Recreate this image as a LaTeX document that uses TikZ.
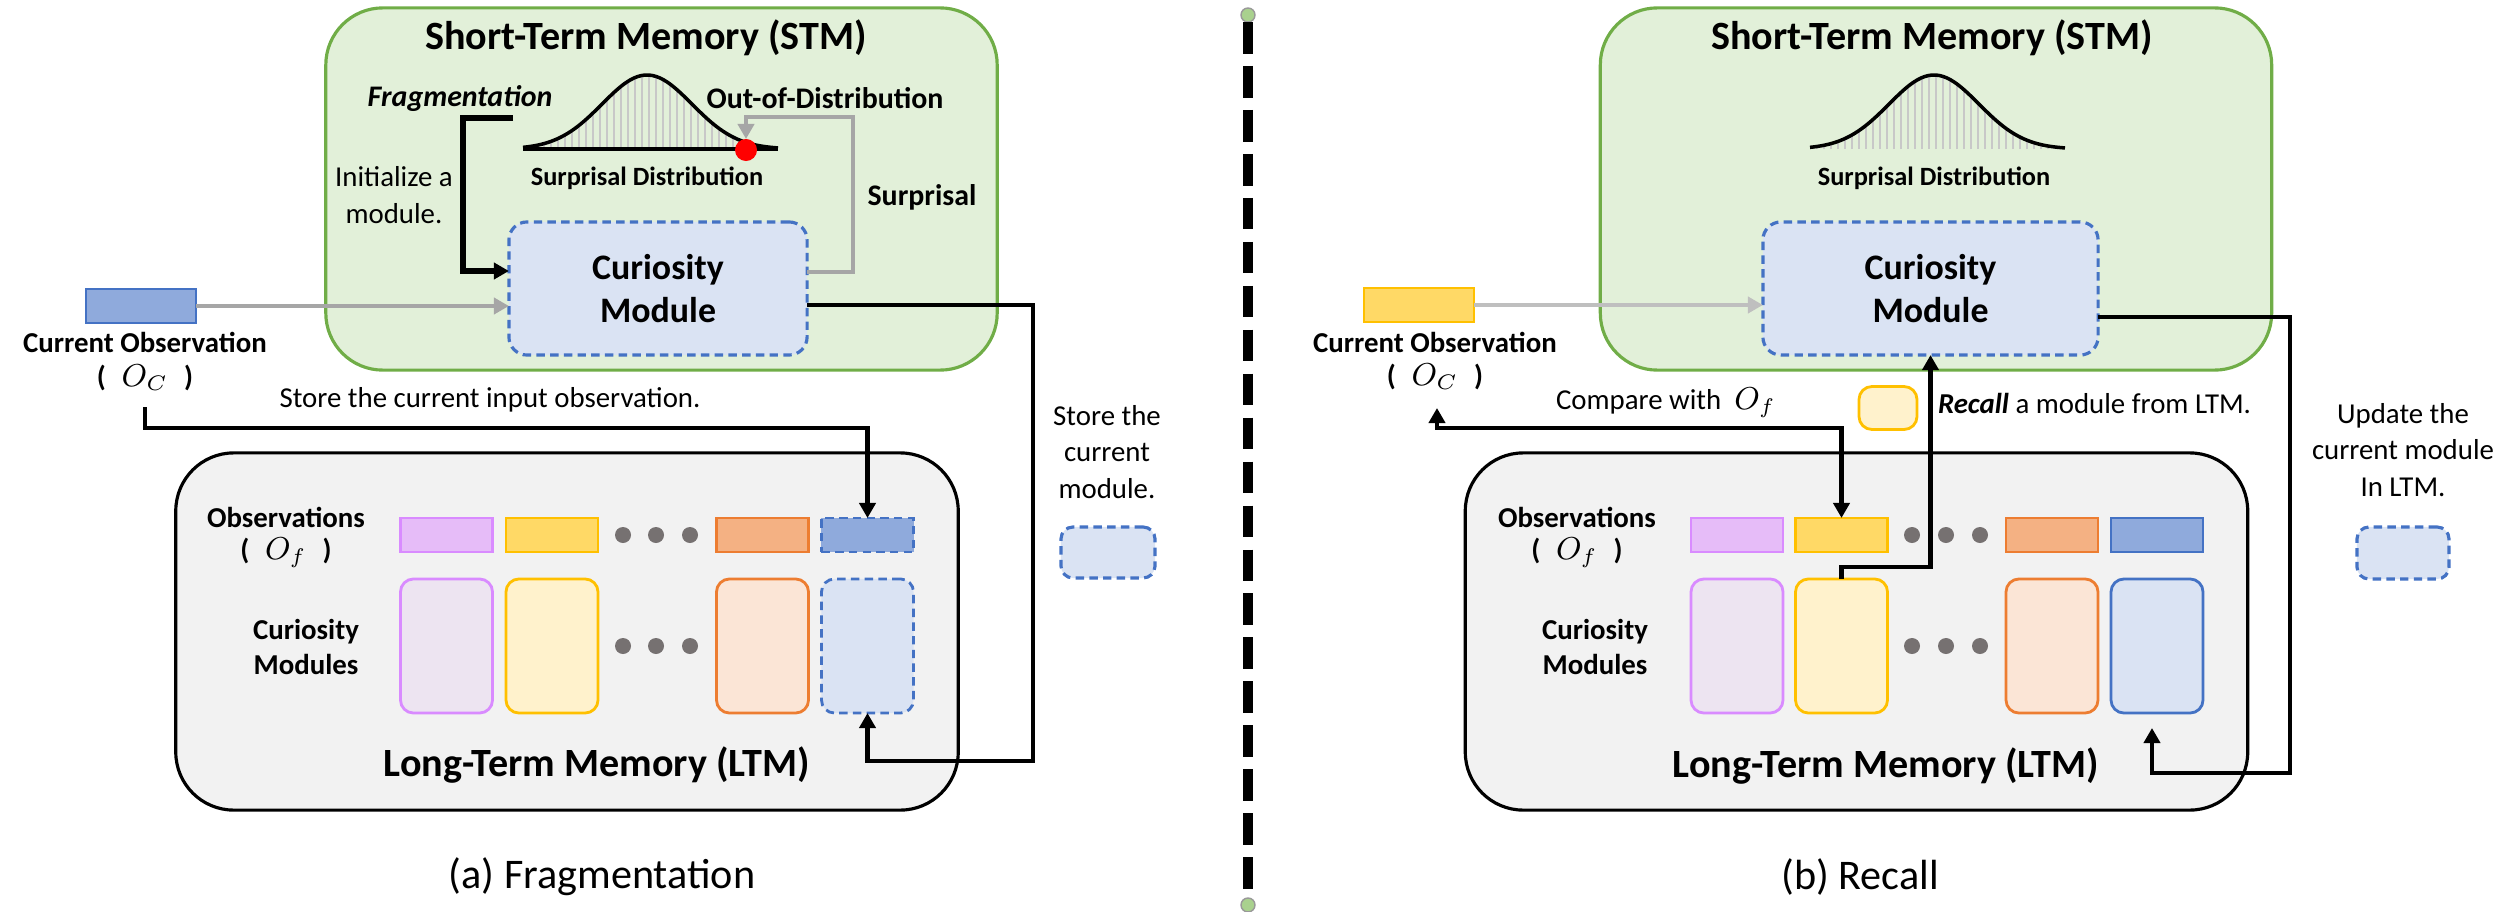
\documentclass[tikz,border=0pt]{standalone}
\usepackage{fontspec}
\setmainfont{Carlito}
\usetikzlibrary{arrows.meta,positioning,calc}

\definecolor{stmfill}{HTML}{E2F0D9}
\definecolor{stmline}{HTML}{70AD47}
\definecolor{cmfill}{HTML}{DAE3F3}
\definecolor{cmline}{HTML}{4472C4}
\definecolor{obsblue}{HTML}{8FAADC}
\definecolor{ltmfill}{HTML}{F2F2F2}
\definecolor{purline}{HTML}{D98BFF}
\definecolor{purobs}{HTML}{E6BCF8}
\definecolor{purmod}{HTML}{EDE4F1}
\definecolor{yelline}{HTML}{FFC000}
\definecolor{yelobs}{HTML}{FFD966}
\definecolor{yelmod}{HTML}{FFF2CC}
\definecolor{oraline}{HTML}{ED7D31}
\definecolor{oraobs}{HTML}{F4B183}
\definecolor{oramod}{HTML}{FBE5D6}
\definecolor{dotgray}{HTML}{767171}
\definecolor{arrgray}{HTML}{A6A6A6}
\definecolor{inpgray}{HTML}{BFBFBF}
\definecolor{hatchgray}{HTML}{C8C8C8}
\definecolor{pinfill}{HTML}{A9D18E}

\newcommand\memfnt{\fontsize{11.4}{13.7}\selectfont\bfseries}
\newcommand\modfnt{\fontsize{10.2}{12}\selectfont\bfseries}
\newcommand\keyfnt{\fontsize{8.5}{10}\selectfont\bfseries}
\newcommand\lblfnt{\fontsize{8.2}{10}\selectfont\bfseries}
\newcommand\notefnt{\fontsize{8.2}{10.3}\selectfont}
\newcommand\distfnt{\fontsize{7.5}{9}\selectfont\bfseries}
\newcommand\capfnt{\fontsize{12}{14}\selectfont}
\newcommand\mathsz{\fontsize{9}{10}\selectfont}
\newcommand\symlbl[1]{(\hspace{0.55em}{\mathsz$#1$}\hspace{0.55em})}

\begin{document}
\begin{tikzpicture}[x=0.01cm, y=-0.01cm,
  every node/.style={inner sep=0pt, outer sep=0pt},
  stmbox/.style={draw=stmline, fill=stmfill, line width=0.9pt,
    rounded corners=0.57cm, minimum width=6.71cm, minimum height=3.62cm},
  ltmbox/.style={draw=black, fill=ltmfill, line width=0.9pt,
    rounded corners=0.58cm, minimum width=7.82cm, minimum height=3.57cm},
  cmbox/.style={draw=cmline, fill=cmfill, line width=0.9pt,
    dash pattern=on 2.4pt off 1.5pt, rounded corners=0.18cm,
    minimum height=1.33cm, align=center, font=\modfnt},
  obsrect/.style={line width=0.8pt, minimum width=0.92cm, minimum height=0.34cm},
  modrect/.style={line width=0.8pt, rounded corners=0.13cm,
    minimum width=0.92cm, minimum height=1.34cm},
  gapdot/.style={circle, fill=dotgray, minimum size=0.16cm},
  memtitle/.style={font=\memfnt},
  lbl/.style={font=\lblfnt, align=center},
  keyword/.style={font=\keyfnt},
  note/.style={font=\notefnt, align=center},
  blkarrow/.style={line width=1.3pt, -{Triangle[width=4.6pt,length=4.3pt]}},
  grayarrow/.style={line width=1.2pt, -{Triangle[width=4.6pt,length=4.3pt]}},
  bell/.style={line width=1pt},
  divend/.style={circle, fill=pinfill, draw=gray!80, line width=0.4pt,
    minimum size=0.14cm}]
\useasboundingbox (0,0) rectangle (2508,912);

% memory boxes
\node[stmbox] (aSTM) at (661.5,189) {};
\node[ltmbox] (aLTM) at (567,631.5) {};
\node[stmbox] (bSTM) at (1936,189) {};
\node[ltmbox] (bLTM) at (1856.5,631.5) {};
\node[memtitle] (aTitle) at (646,38) {Short-Term Memory (STM)};
\node[memtitle] (aLTMtitle) at (597,765) {Long-Term Memory (LTM)};
\node[memtitle] (bTitle) at (1932,38) {Short-Term Memory (STM)};
\node[memtitle] (bLTMtitle) at (1886,766) {Long-Term Memory (LTM)};

% surprisal curves
\foreach \sh in {0,1287} {
  \foreach \hx in {530,537,...,775}
    \draw[hatchgray, line width=0.5pt] ({\hx+\sh},149) -- ({\hx+\sh},{149-74*exp(-0.5*pow((\hx-647)/45,2))});
  \draw[bell] plot[domain=523:778, samples=70, smooth] ({\x+\sh},{149-74*exp(-0.5*pow((\x-647)/45,2))});
}
\draw[line width=1.2pt] (523,149) -- (778,149);

% (a) fragmentation
\node[circle, fill=red, minimum size=0.22cm] (aRed) at (746,150) {};
\node[font=\distfnt] (aDist) at (647,178) {Surprisal Distribution};
\node[keyword, font=\keyfnt\itshape] (aFrag) at (460,99) {Fragmentation};
\node[keyword] (aOOD) at (825,98) {Out-of-Distribution};
\node[keyword] (aSurp) at (922,197) {Surprisal};
\node[note] (aInit) at (394,195) {Initialize a\\module.};
\node[cmbox, minimum width=2.98cm] (aCM) at (658,288.5) {Curiosity\\Module};
\node[obsrect, draw=cmline, fill=obsblue, minimum width=1.1cm] (aObs) at (141,306) {};
\node[lbl] (aObsLbl) at (145,342) {Current Observation};
\node[lbl] (aOc) at (145,378) {\symlbl{O_C}};
\node[note] (aStoreTxt) at (490,400) {Store the current input observation.};
\node[lbl] (aObsTxt) at (286,517) {Observations};
\node[lbl] (aOf) at (286,553) {\symlbl{O_f}};
\node[lbl] (aCMs) at (306,647) {Curiosity\\Modules};
\foreach \n/\x/\ln/\ob/\md in {1/446.5/purline/purobs/purmod,
    2/552/yelline/yelobs/yelmod, 3/762.5/oraline/oraobs/oramod} {
  \node[obsrect, draw=\ln, fill=\ob] (aO\n) at (\x,535) {};
  \node[modrect, draw=\ln, fill=\md] (aM\n) at (\x,646) {};
}
\node[obsrect, draw=cmline, fill=obsblue, dash pattern=on 2.4pt off 1.5pt] (aO4) at (867.5,535) {};
\node[modrect, draw=cmline, fill=cmfill, dash pattern=on 2.4pt off 1.5pt] (aM4) at (867.5,646) {};
\foreach \i/\x in {1/623,2/656,3/690} {
  \node[gapdot] (aDo\i) at (\x,535) {};
  \node[gapdot] (aDm\i) at (\x,646) {};
}
\node[note] (aStoreMod) at (1107,452) {Store the\\current\\module.};
\node[cmbox, minimum width=0.94cm, minimum height=0.51cm, rounded corners=0.12cm] (aMini) at (1108,552.5) {};
\node[font=\capfnt] (aCap) at (602,877) {(a) Fragmentation};

\coordinate (aFragStart) at (513,118);
\coordinate (aFragTurn) at (463,118);
\coordinate (aLoopTop) at (853,117);
\coordinate (aStoreStart) at (145,407);
\coordinate (aModTurn) at (1033,761);
\draw[grayarrow, arrgray] (aObs.east) -- (aObs.east -| aCM.west);
\draw[blkarrow, line width=1.5pt] (aFragStart) -- (aFragTurn) |- ([yshift=0.175cm]aCM.west);
\draw[grayarrow, arrgray] ([yshift=0.165cm]aCM.east) -| (aLoopTop) -| (aRed.north);
\draw[blkarrow] (aStoreStart) -- ++(0,21) -| (aO4.north);
\draw[blkarrow] ([yshift=-0.165cm]aCM.east) -| (aModTurn) -| (aM4.south);

% divider
\node[divend] (pinTop) at (1248,15) {};
\node[divend] (pinBot) at (1248,905) {};
\draw[line width=2.85pt, dash pattern=on 9pt off 3.5pt] (pinTop.south) -- (pinBot.north);

% (b) recall
\node[font=\distfnt] (bDist) at (1934,178) {Surprisal Distribution};
\node[cmbox, minimum width=3.35cm] (bCM) at (1930.5,288.5) {Curiosity\\Module};
\node[obsrect, draw=yelline, fill=yelobs, minimum width=1.1cm] (bObs) at (1419,305) {};
\node[lbl] (bObsLbl) at (1435,342) {Current Observation};
\node[lbl] (bOc) at (1435,377) {\symlbl{O_C}};
\node[note] (bCmpTxt) at (1666,403) {Compare with~~{\mathsz$O_f$}};
\node[modrect, draw=yelline, fill=yelmod, minimum width=0.58cm, minimum height=0.43cm] (bRecallBox) at (1888,408) {};
\node[note, anchor=west] (bRecallTxt) at (1938,403) {\textbf{\textit{Recall}} a module from LTM.};
\node[lbl] (bObsTxt) at (1577,517) {Observations};
\node[lbl] (bOf) at (1577,553) {\symlbl{O_f}};
\node[lbl] (bCMs) at (1595,647) {Curiosity\\Modules};
\foreach \n/\x/\ln/\ob/\md in {1/1737/purline/purobs/purmod,
    2/1841.5/yelline/yelobs/yelmod, 3/2052/oraline/oraobs/oramod,
    4/2157/cmline/obsblue/cmfill} {
  \node[obsrect, draw=\ln, fill=\ob] (bO\n) at (\x,535) {};
  \node[modrect, draw=\ln, fill=\md] (bM\n) at (\x,646) {};
}
\foreach \i/\x in {1/1912,2/1946,3/1980} {
  \node[gapdot] (bDo\i) at (\x,535) {};
  \node[gapdot] (bDm\i) at (\x,646) {};
}
\node[note] (bUpdTxt) at (2403,450) {Update the\\current module\\In LTM.};
\node[cmbox, minimum width=0.92cm, minimum height=0.52cm, rounded corners=0.12cm] (bMini) at (2403,553) {};
\node[font=\capfnt] (bCap) at (1860,877) {(b) Recall};

\coordinate (bCmpEnd) at (1437,408);
\coordinate (bUpdTurn) at (2290,773);
\coordinate (bUpdEnd) at (2152,728);
\draw[grayarrow, inpgray] (bObs.east) -- (bObs.east -| bCM.west);
\draw[blkarrow, {Triangle[width=4.6pt,length=4.3pt]}-{Triangle[width=4.6pt,length=4.3pt]}] (bCmpEnd) -- ++(0,20) -| (bO2.north);
\draw[blkarrow] (bM2.north) -- ++(0,-12) -| (bCM.south);
\draw[blkarrow] ([yshift=-0.285cm]bCM.east) -| (bUpdTurn) -| (bUpdEnd);
\end{tikzpicture}
\end{document}
